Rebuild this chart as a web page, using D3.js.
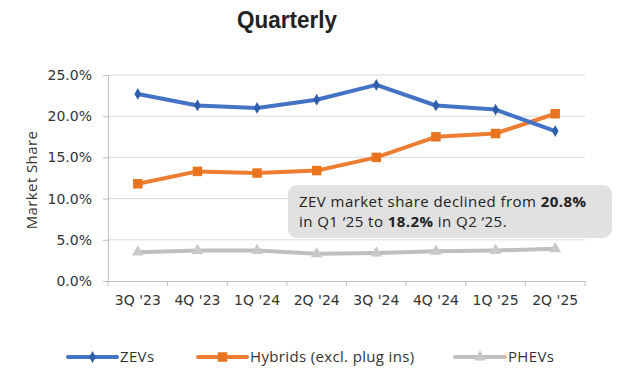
<!DOCTYPE html>
<html>
<head>
<meta charset="utf-8">
<script src="https://cdn.jsdelivr.net/npm/d3@7"></script>
<style>
  body { margin: 0; background: #fff; }
  text { font-family: "Open Sans", "Liberation Sans", Arial, sans-serif; }
</style>
</head>
<body>
<svg id="chart"></svg>
<script>
const quarters = ["3Q '23", "4Q '23", "1Q '24", "2Q '24", "3Q '24", "4Q '24", "1Q '25", "2Q '25"];
const zevs = [22.7, 21.3, 21.0, 22.0, 23.8, 21.3, 20.8, 18.2];
const hybrids = [11.8, 13.3, 13.1, 13.4, 15.0, 17.5, 17.9, 20.3];
const phevs = [3.5, 3.7, 3.7, 3.3, 3.4, 3.6, 3.7, 3.9];
const yTicks = [0, 5, 10, 15, 20, 25];

const width = 619, height = 387;
const margin = { top: 75, right: 34, bottom: 106, left: 108 };

const svg = d3.select("#chart").attr("width", width).attr("height", height);

const x = d3.scaleBand().domain(quarters).range([margin.left, width - margin.right]);
const y = d3.scaleLinear().domain([0, 25]).range([height - margin.bottom, margin.top]);

// title, squeezed to look condensed
const title = svg.append("text")
  .attr("text-anchor", "middle")
  .style("font-family", "'Liberation Sans', Arial, sans-serif")
  .style("font-weight", "bold")
  .style("font-size", "24px")
  .attr("fill", "#222")
  .text("Quarterly");
const tw = title.node().getComputedTextLength();
title.attr("transform", `translate(287,28) scale(${100 / tw},1)`);

// gridlines
svg.append("g")
  .selectAll("line")
  .data(yTicks.slice(1))
  .join("line")
  .attr("x1", margin.left).attr("x2", width - margin.right)
  .attr("y1", d => y(d)).attr("y2", d => y(d))
  .attr("stroke", "#d9d9d9").attr("stroke-width", 1);

// y axis
const yAxis = svg.append("g")
  .attr("transform", `translate(${margin.left},0)`)
  .call(d3.axisLeft(y).tickValues(yTicks).tickSize(5).tickPadding(11).tickFormat(d => d.toFixed(1) + "%"));
yAxis.select(".domain").attr("stroke", "#bfbfbf");
yAxis.selectAll(".tick line").attr("stroke", "#bfbfbf");
yAxis.selectAll("text").style("font-family", "'DejaVu Sans', sans-serif").style("font-size", "14px").attr("fill", "#333");

// x axis
const xAxis = svg.append("g")
  .attr("transform", `translate(0,${y(0)})`)
  .call(d3.axisBottom(x).tickSize(0).tickPadding(14));
xAxis.select(".domain").attr("stroke", "#bfbfbf");
xAxis.selectAll("text").style("font-family", "'DejaVu Sans', sans-serif").style("font-size", "14px").attr("fill", "#333");
// tick marks at band edges
svg.append("g")
  .selectAll("line")
  .data(quarters.concat(["end"]))
  .join("line")
  .attr("x1", (d, i) => margin.left + i * x.step())
  .attr("x2", (d, i) => margin.left + i * x.step())
  .attr("y1", y(0)).attr("y2", y(0) + 5)
  .attr("stroke", "#bfbfbf");

// y label
svg.append("text")
  .attr("transform", `translate(37,${(y(0) + y(25)) / 2 + 2}) rotate(-90)`)
  .attr("text-anchor", "middle")
  .style("font-size", "15px")
  .style("letter-spacing", "0.4px")
  .attr("fill", "#333")
  .text("Market Share");

const series = [
  { name: "ZEVs", values: zevs, color: "#4472c4", marker: "#2f5ea8", symbol: d3.symbolDiamond, size: 40 },
  { name: "Hybrids (excl. plug ins)", values: hybrids, color: "#ed7d31", marker: "#e8741f", symbol: d3.symbolSquare, size: 90 },
  { name: "PHEVs", values: phevs, color: "#bfbfbf", marker: "#c9c9c9", symbol: d3.symbolTriangle, size: 60 }
];

const line = d3.line()
  .x((d, i) => x(quarters[i]) + x.bandwidth() / 2)
  .y(d => y(d));

// draw PHEV first, then hybrids, then ZEV on top
[series[2], series[1], series[0]].forEach(s => {
  svg.append("path")
    .datum(s.values)
    .attr("d", line)
    .attr("fill", "none")
    .attr("stroke", s.color)
    .attr("stroke-width", 4)
    .attr("stroke-linejoin", "round");
  svg.append("g")
    .selectAll("path")
    .data(s.values)
    .join("path")
    .attr("transform", (d, i) => `translate(${x(quarters[i]) + x.bandwidth() / 2},${y(d)})`)
    .attr("d", d3.symbol().type(s.symbol).size(s.size))
    .attr("fill", s.marker);
});

// annotation box
const note = svg.append("g");
note.append("rect")
  .attr("x", 288).attr("y", 185)
  .attr("width", 324).attr("height", 53)
  .attr("rx", 9)
  .attr("fill", "#e1e1e1");
const t1 = note.append("text").attr("x", 299).attr("y", 207)
  .style("font-size", "15px").style("letter-spacing", "0.45px").attr("fill", "#222");
t1.append("tspan").text("ZEV market share declined from ");
t1.append("tspan").style("font-weight", "bold").text("20.8%");
const t2 = note.append("text").attr("x", 299).attr("y", 227)
  .style("font-size", "15px").style("letter-spacing", "0.45px").attr("fill", "#222");
t2.append("tspan").text("in Q1 \u201825 to ");
t2.append("tspan").style("font-weight", "bold").text("18.2%");
t2.append("tspan").text(" in Q2 \u201825.");

// legend
const legendPos = [
  { x1: 68, x2: 117 },
  { x1: 198, x2: 247 },
  { x1: 455, x2: 505 }
];
series.forEach((s, i) => {
  const g = svg.append("g");
  const p = legendPos[i];
  g.append("line")
    .attr("x1", p.x1).attr("x2", p.x2)
    .attr("y1", 357).attr("y2", 357)
    .attr("stroke", s.color).attr("stroke-width", 4).attr("stroke-linecap", "round");
  g.append("path")
    .attr("transform", `translate(${(p.x1 + p.x2) / 2},357)`)
    .attr("d", d3.symbol().type(s.symbol).size(s.size))
    .attr("fill", s.marker);
  g.append("text")
    .attr("x", p.x2 + 3).attr("y", 362)
    .style("font-size", "15px").style("letter-spacing", "0.35px").attr("fill", "#333")
    .text(s.name);
});
</script>
</body>
</html>
